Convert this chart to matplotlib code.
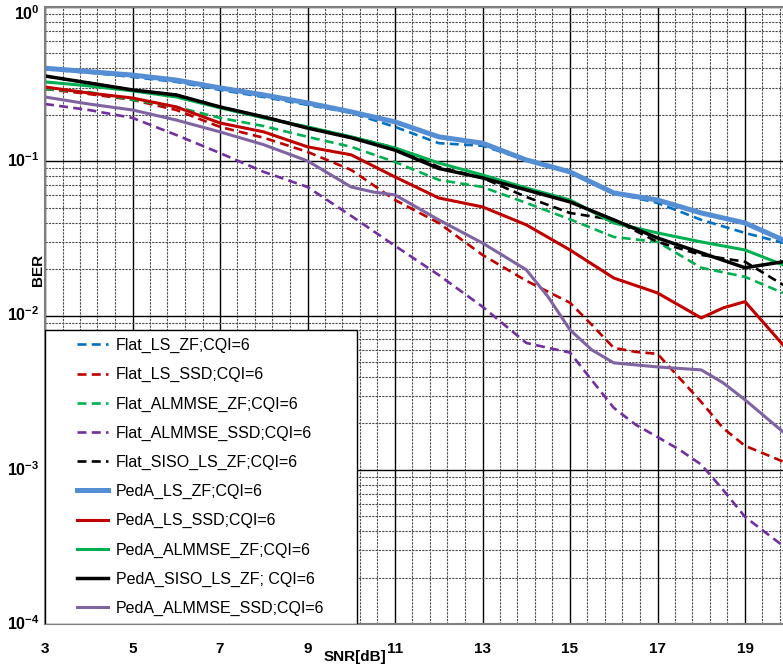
import numpy as np
import matplotlib
matplotlib.use("Agg")
from matplotlib import pyplot as plt
from matplotlib import transforms
from matplotlib.ticker import FixedLocator, NullFormatter
from matplotlib.patches import Rectangle

plt.rcParams['font.family'] = ['Liberation Sans', 'DejaVu Sans']
plt.rcParams['mathtext.fontset'] = 'custom'
plt.rcParams['mathtext.rm'] = 'Liberation Sans:bold'
plt.rcParams['mathtext.it'] = 'Liberation Sans:bold'
plt.rcParams['mathtext.bf'] = 'Liberation Sans:bold'

# SNR grids (dB)
snr = [3, 4, 5, 6, 7, 8, 9, 10, 11, 12, 13, 14, 15, 16, 17, 18, 19, 19.87]
snr_flat_ls_ssd = [3, 4, 5, 6, 7, 8, 9, 10, 11, 12, 13, 14, 15, 15.5, 16, 16.5, 17, 17.5, 18, 18.5, 19, 19.87]
snr_flat_almmse_ssd = [3, 4, 5, 6, 7, 8, 9, 10, 11, 12, 13, 14, 14.5, 15, 15.5, 16, 16.5, 17, 17.5, 18, 18.5, 19, 19.87]
snr_peda_ls_ssd = [3, 4, 5, 6, 7, 8, 9, 10, 11, 12, 13, 14, 15, 16, 17, 18, 18.5, 19, 19.87]
snr_peda_almmse_ssd = [3, 4, 5, 6, 7, 8, 9, 10, 10.5, 11, 12, 13, 14, 14.5, 15, 15.5, 16, 17, 18, 18.5, 19, 19.87]

# BER values
flat_ls_zf = [0.395, 0.376, 0.352, 0.327, 0.290, 0.261, 0.232, 0.206, 0.167, 0.131, 0.126, 0.102,
              0.0853, 0.0623, 0.0537, 0.0417, 0.0343, 0.0296]
flat_ls_ssd = [0.294, 0.273, 0.250, 0.215, 0.167, 0.142, 0.115, 0.0878, 0.0561, 0.0398, 0.0247, 0.0168,
               0.0121, 0.00869, 0.00617, 0.00581, 0.00564, 0.00394, 0.00275, 0.00186, 0.00143, 0.00113]
flat_almmse_zf = [0.294, 0.281, 0.250, 0.225, 0.191, 0.169, 0.144, 0.124, 0.0989, 0.0757, 0.0681, 0.0537,
                  0.042, 0.0323, 0.0300, 0.0204, 0.0178, 0.0140]
flat_almmse_ssd = [0.235, 0.215, 0.191, 0.148, 0.113, 0.0853, 0.0681, 0.0442, 0.0283, 0.0183, 0.0114, 0.00664,
                   0.00617, 0.00575, 0.0038, 0.00252, 0.00196, 0.00163, 0.00135, 0.00108, 0.00074, 0.000495, 0.000321]
flat_siso_ls_zf = [0.357, 0.322, 0.290, 0.269, 0.225, 0.194, 0.166, 0.144, 0.122, 0.0918, 0.0780, 0.0587,
                   0.0462, 0.0417, 0.0300, 0.0247, 0.0223, 0.0158]
peda_ls_zf = [0.401, 0.381, 0.362, 0.336, 0.299, 0.269, 0.239, 0.209, 0.180, 0.144, 0.131, 0.102,
              0.0853, 0.0623, 0.0561, 0.0462, 0.0398, 0.0309]
peda_ls_ssd = [0.303, 0.277, 0.257, 0.225, 0.177, 0.155, 0.124, 0.110, 0.0791, 0.0578, 0.0506, 0.0387,
               0.0266, 0.0175, 0.0140, 0.00964, 0.0112, 0.0123, 0.00645]
peda_almmse_zf = [0.327, 0.308, 0.286, 0.261, 0.222, 0.191, 0.167, 0.144, 0.122, 0.0975, 0.0815, 0.0671,
                  0.0561, 0.0398, 0.0343, 0.0300, 0.0266, 0.0213]
peda_siso_ls_zf = [0.357, 0.322, 0.290, 0.269, 0.225, 0.194, 0.164, 0.142, 0.118, 0.0898, 0.0780, 0.0652,
                   0.0545, 0.0417, 0.0318, 0.0255, 0.0204, 0.0223]
peda_almmse_ssd = [0.261, 0.235, 0.215, 0.185, 0.155, 0.128, 0.1005, 0.0681, 0.0632, 0.0605, 0.0417, 0.0295,
                   0.0198, 0.0132, 0.00807, 0.00598, 0.00493, 0.00464, 0.00444, 0.00366, 0.00284, 0.00176]

series = [
    ("Flat_LS_ZF;CQI=6", snr, flat_ls_zf, "#0070C0", "--", 1.9),
    ("Flat_LS_SSD;CQI=6", snr_flat_ls_ssd, flat_ls_ssd, "#C00000", "--", 1.9),
    ("Flat_ALMMSE_ZF;CQI=6", snr, flat_almmse_zf, "#00B050", "--", 1.9),
    ("Flat_ALMMSE_SSD;CQI=6", snr_flat_almmse_ssd, flat_almmse_ssd, "#7030A0", "--", 1.9),
    ("Flat_SISO_LS_ZF;CQI=6", snr, flat_siso_ls_zf, "black", "--", 1.9),
    ("PedA_LS_ZF;CQI=6", snr, peda_ls_zf, "#558ED5", "-", 3.6),
    ("PedA_LS_SSD;CQI=6", snr_peda_ls_ssd, peda_ls_ssd, "#C00000", "-", 2.2),
    ("PedA_ALMMSE_ZF;CQI=6", snr, peda_almmse_zf, "#00B050", "-", 2.2),
    ("PedA_SISO_LS_ZF; CQI=6", snr, peda_siso_ls_zf, "black", "-", 2.5),
    ("PedA_ALMMSE_SSD;CQI=6", snr_peda_almmse_ssd, peda_almmse_ssd, "#8064A2", "-", 2.2),
]

fig = plt.figure(figsize=(7.83, 6.66), dpi=100)
ax = fig.add_axes([45 / 783, 1 - 624 / 666, 743.75 / 783, 617 / 666])

for label, x, y, color, ls, lw in series:
    line, = ax.plot(x, y, color=color, linestyle=ls, linewidth=lw, label=label)
    if ls == "--":
        line.set_dashes((3.4, 2.0))

ax.set_yscale("log")
ax.set_xlim(3, 20)
ax.set_ylim(1e-4, 1)

ax.set_xticks(range(3, 20, 2))
ax.xaxis.set_minor_locator(FixedLocator(np.arange(3, 20.01, 0.4)))
ax.set_yticks([1e-4, 1e-3, 1e-2, 1e-1, 1])
ax.set_yticklabels([r"$10^{-4}$", r"$10^{-3}$", r"$10^{-2}$", r"$10^{-1}$", r"$10^{0}$"])
minor_y = [m * 10.0 ** e for e in range(-4, 0) for m in range(2, 10)]
ax.yaxis.set_minor_locator(FixedLocator(minor_y))
ax.yaxis.set_minor_formatter(NullFormatter())

ax.set_axisbelow(True)
ax.grid(which="major", color="black", linewidth=1.0)
ax.grid(which="minor", color="#4d4d4d", linewidth=0.8, linestyle=(0, (2, 1)))

ax.tick_params(which="both", length=0)
ax.tick_params(axis="x", pad=13, labelsize=11)
ax.tick_params(axis="y", pad=4, labelsize=11.5)
for t in ax.get_xticklabels():
    t.set_fontweight("bold")
# lift the y labels so the "10" sits on its gridline; the top one drops below the frame edge
ylbls = ax.get_yticklabels()
for t in ylbls[:-1]:
    t.set_transform(t.get_transform() + transforms.ScaledTranslation(0, 2 / 100, fig.dpi_scale_trans))
ylbls[-1].set_transform(ylbls[-1].get_transform() +
                        transforms.ScaledTranslation(0, -5 / 100, fig.dpi_scale_trans))

for s in ax.spines.values():
    s.set_color("#808080")
    s.set_linewidth(1.5)

fig.text(355 / 783, 1 - 657 / 666, "SNR[dB]", ha="center", va="center",
         fontsize=11, fontweight="bold")
fig.text(38 / 783, 1 - 270 / 666, "BER", ha="center", va="center",
         rotation=90, fontsize=11, fontweight="bold")

# legend box
ax.add_patch(Rectangle((0, 0), (357 - 45) / 743.75, (624 - 330) / 617, transform=ax.transAxes,
                       facecolor="white", edgecolor="black", linewidth=1.0, zorder=4))
ax.legend(loc="upper left", bbox_to_anchor=((77 - 45) / 743.75, (624 - 338) / 617),
          frameon=False, borderpad=0, fontsize=11.5, handlelength=1.94,
          handletextpad=0.5, labelspacing=0.88, borderaxespad=0)

fig.savefig("out.png", dpi=100)
